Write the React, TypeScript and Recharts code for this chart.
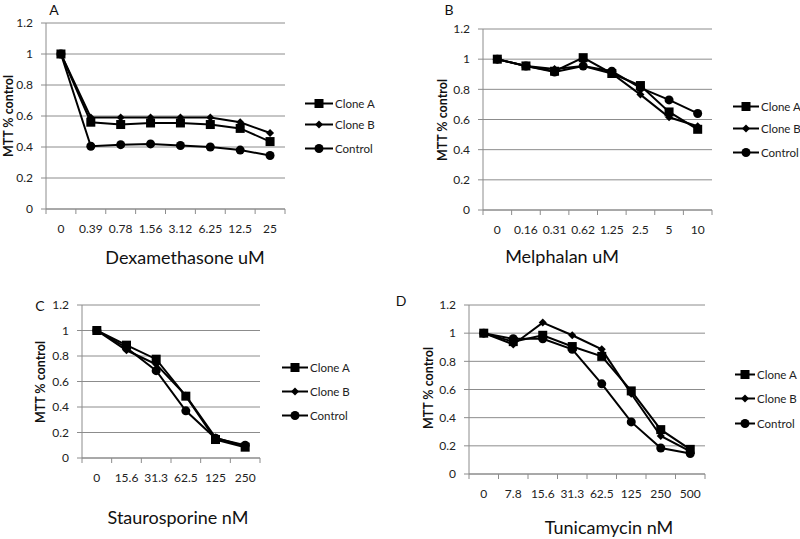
import React from "react";
import { LineChart, Line, XAxis, YAxis, CartesianGrid } from "recharts";

// Panel A - Dexamethasone
const dexCats = ["0", "0.39", "0.78", "1.56", "3.12", "6.25", "12.5", "25"];
const dexCloneA = [1, 0.56, 0.545, 0.555, 0.555, 0.545, 0.52, 0.435];
const dexCloneB = [1, 0.59, 0.59, 0.59, 0.59, 0.59, 0.56, 0.49];
const dexControl = [1, 0.405, 0.415, 0.42, 0.41, 0.4, 0.38, 0.345];

// Panel B - Melphalan
const melCats = ["0", "0.16", "0.31", "0.62", "1.25", "2.5", "5", "10"];
const melCloneA = [1, 0.955, 0.92, 1.01, 0.905, 0.825, 0.65, 0.535];
const melCloneB = [1, 0.955, 0.935, 0.955, 0.905, 0.765, 0.615, 0.555];
const melControl = [1, 0.955, 0.915, 0.955, 0.92, 0.81, 0.73, 0.64];

// Panel C - Staurosporine
const stauCats = ["0", "15.6", "31.3", "62.5", "125", "250"];
const stauCloneA = [1, 0.885, 0.775, 0.485, 0.145, 0.085];
const stauCloneB = [1, 0.845, 0.735, 0.49, 0.16, 0.09];
const stauControl = [1, 0.865, 0.685, 0.37, 0.155, 0.1];

// Panel D - Tunicamycin
const tuniCats = ["0", "7.8", "15.6", "31.3", "62.5", "125", "250", "500"];
const tuniCloneA = [1, 0.94, 0.985, 0.905, 0.835, 0.59, 0.315, 0.175];
const tuniCloneB = [1, 0.92, 1.075, 0.985, 0.885, 0.57, 0.27, 0.16];
const tuniControl = [1, 0.96, 0.96, 0.885, 0.64, 0.37, 0.185, 0.145];

const yTicks = [0, 0.2, 0.4, 0.6, 0.8, 1, 1.2];
const seriesNames = ["Clone A", "Clone B", "Control"];

const FONT = "Lato, 'Open Sans', sans-serif";
const GRID = "#8c8c8c";

const squareDot = (p: any) => (
  <rect key={`sq${p.index}`} x={p.cx - 4.5} y={p.cy - 4.5} width={9} height={9} fill="#000" />
);
const diamondDot = (p: any) => (
  <polygon
    key={`di${p.index}`}
    points={`${p.cx},${p.cy - 4} ${p.cx + 4},${p.cy} ${p.cx},${p.cy + 4} ${p.cx - 4},${p.cy}`}
    fill="#000"
  />
);
const circleDot = (p: any) => (
  <circle key={`ci${p.index}`} cx={p.cx} cy={p.cy} r={4.5} fill="#000" />
);

// category labels at integer ticks, boundary tick marks at half steps
const XTick = (props: any) => {
  const { x, y, payload, cats } = props;
  const v = payload.value;
  if (Number.isInteger(v)) {
    return (
      <text x={x} y={y + 19} textAnchor="middle" dominantBaseline="central" fontSize={12} fill="#222" fontFamily={FONT}>
        {cats[v]}
      </text>
    );
  }
  return <line x1={x} x2={x} y1={y} y2={y + 5} stroke={GRID} />;
};

type PanelProps = {
  cats: string[];
  a: number[];
  b: number[];
  c: number[];
  left: number;
  top: number;
  width: number;
  height: number;
  margin: { top: number; right: number; bottom: number; left: number };
};

const Panel: React.FC<PanelProps> = ({ cats, a, b, c, left, top, width, height, margin }) => {
  const data = cats.map((label, i) => ({ i, label, cloneA: a[i], cloneB: b[i], control: c[i] }));
  const xTicks: number[] = [];
  for (let k = -0.5; k <= cats.length - 0.5; k += 0.5) xTicks.push(k);
  return (
    <div style={{ position: "absolute", left, top }}>
      <LineChart width={width} height={height} data={data} margin={margin}>
        <CartesianGrid vertical={false} stroke={GRID} />
        <XAxis
          type="number"
          dataKey="i"
          domain={[-0.5, cats.length - 0.5]}
          ticks={xTicks}
          interval={0}
          height={30}
          tickSize={0}
          tickMargin={0}
          tickLine={false}
          axisLine={{ stroke: GRID }}
          tick={<XTick cats={cats} />}
        />
        <YAxis
          type="number"
          domain={[0, 1.2]}
          ticks={yTicks}
          interval={0}
          width={30}
          tickSize={5}
          tickMargin={8}
          tickLine={{ stroke: GRID }}
          axisLine={{ stroke: GRID }}
          tick={{ fontSize: 12, fill: "#222", fontFamily: FONT }}
          tickFormatter={(v) => String(v)}
        />
        <Line dataKey="control" stroke="#000" strokeWidth={2} dot={circleDot} isAnimationActive={false} />
        <Line dataKey="cloneB" stroke="#000" strokeWidth={2} dot={diamondDot} isAnimationActive={false} />
        <Line dataKey="cloneA" stroke="#000" strokeWidth={2} dot={squareDot} isAnimationActive={false} />
      </LineChart>
    </div>
  );
};

const LegendBox = ({ left, rows, lineLen }: { left: number; rows: number[]; lineLen: number }) => {
  const markers = [
    <rect x={lineLen / 2 - 4.5} y={3} width={9} height={9} fill="#000" />,
    <polygon points={`${lineLen / 2},3.5 ${lineLen / 2 + 4},7.5 ${lineLen / 2},11.5 ${lineLen / 2 - 4},7.5`} fill="#000" />,
    <circle cx={lineLen / 2} cy={7.5} r={4.5} fill="#000" />,
  ];
  return (
    <>
      {seriesNames.map((name, k) => (
        <div
          key={name}
          style={{ position: "absolute", left, top: rows[k] - 8, height: 16, display: "flex", alignItems: "center", whiteSpace: "nowrap" }}
        >
          <svg width={lineLen} height={15} style={{ display: "block" }}>
            <line x1={0} x2={lineLen} y1={7.5} y2={7.5} stroke="#000" strokeWidth={2} />
            {markers[k]}
          </svg>
          <span style={{ fontFamily: FONT, fontSize: 11.5, color: "#222", marginLeft: 2 }}>{name}</span>
        </div>
      ))}
    </>
  );
};

const Text = ({ x, y, size, children, bold, rotate }: any) => (
  <div
    style={{
      position: "absolute",
      left: x,
      top: y,
      transform: `translate(-50%, -50%)${rotate ? " rotate(-90deg)" : ""}`,
      fontFamily: FONT,
      fontSize: size,
      fontWeight: bold ? 700 : 400,
      color: "#111",
      whiteSpace: "nowrap",
      lineHeight: 1.2,
    }}
  >
    {children}
  </div>
);

export default function App() {
  return (
    <div style={{ position: "absolute", left: 0, top: 0, width: 800, height: 539, background: "#fff", overflow: "hidden" }}>
      <Panel cats={dexCats} a={dexCloneA} b={dexCloneB} c={dexControl} left={0} top={0} width={400} height={270}
        margin={{ top: 23, right: 115, bottom: 31, left: 16 }} />
      <Panel cats={melCats} a={melCloneA} b={melCloneB} c={melControl} left={400} top={0} width={400} height={270}
        margin={{ top: 29, right: 88, bottom: 30, left: 53 }} />
      <Panel cats={stauCats} a={stauCloneA} b={stauCloneB} c={stauControl} left={0} top={270} width={400} height={269}
        margin={{ top: 35, right: 140, bottom: 51, left: 52 }} />
      <Panel cats={tuniCats} a={tuniCloneA} b={tuniCloneB} c={tuniControl} left={400} top={270} width={400} height={269}
        margin={{ top: 35, right: 95, bottom: 35, left: 39 }} />

      <LegendBox left={305} rows={[103, 124, 148]} lineLen={28} />
      <LegendBox left={733} rows={[106, 128, 152]} lineLen={26} />
      <LegendBox left={282} rows={[367, 391, 415]} lineLen={26} />
      <LegendBox left={735} rows={[374, 398, 423]} lineLen={20} />

      <Text x={54} y={10} size={14}>A</Text>
      <Text x={449} y={10} size={14}>B</Text>
      <Text x={40} y={306} size={14}>C</Text>
      <Text x={401} y={301} size={14}>D</Text>

      <Text x={8} y={116} size={12.5} bold rotate>MTT % control</Text>
      <Text x={442} y={120} size={12.5} bold rotate>MTT % control</Text>
      <Text x={40} y={382} size={12.5} bold rotate>MTT % control</Text>
      <Text x={428} y={388} size={12.5} bold rotate>MTT % control</Text>

      <Text x={185} y={258} size={18}>Dexamethasone uM</Text>
      <Text x={562} y={257} size={18}>Melphalan uM</Text>
      <Text x={178} y={518} size={18}>Staurosporine nM</Text>
      <Text x={609} y={528} size={18}>Tunicamycin nM</Text>
    </div>
  );
}
